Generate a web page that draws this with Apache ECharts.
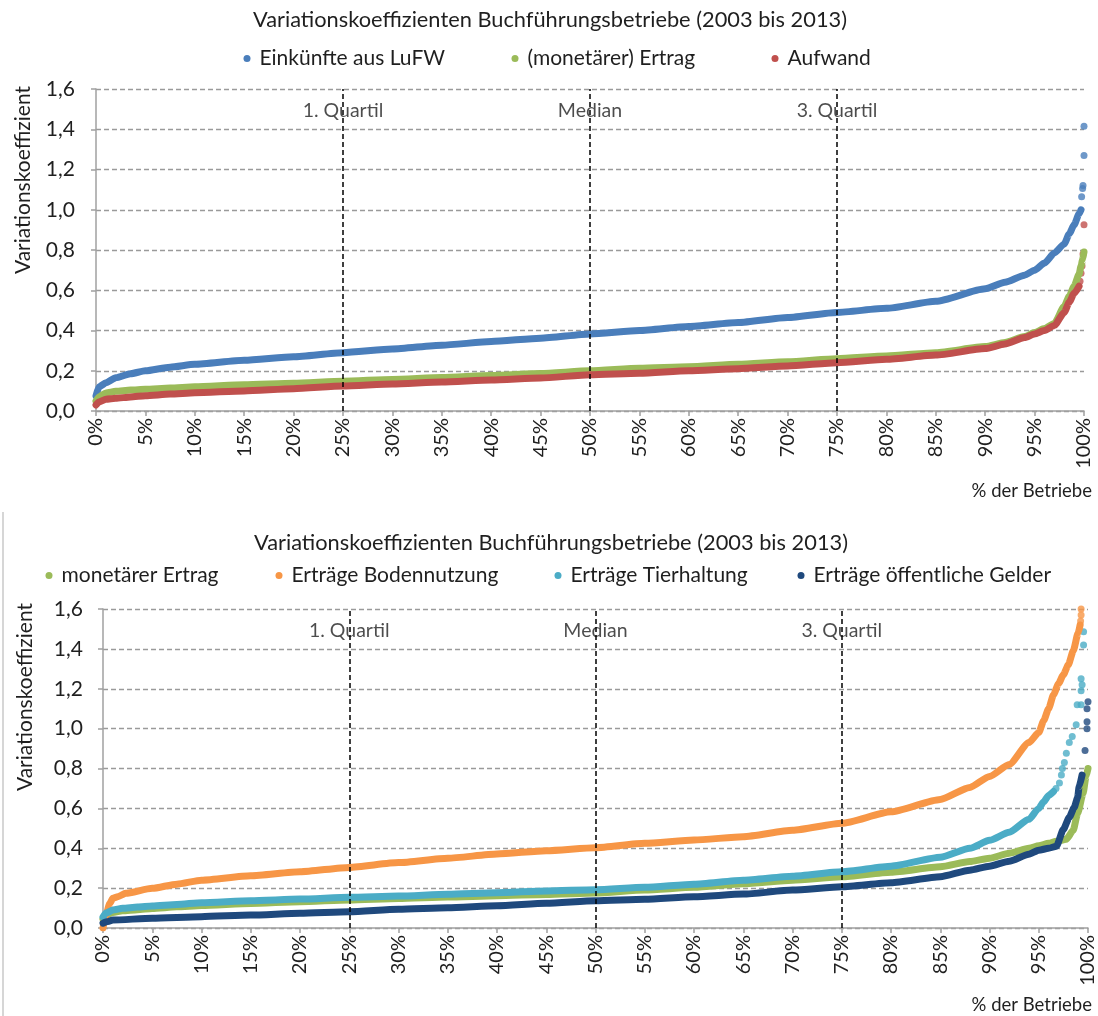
<!DOCTYPE html>
<html>
<head>
<meta charset="utf-8">
<script src="https://cdn.jsdelivr.net/npm/echarts@6/dist/echarts.min.js"></script>
<style>html,body{margin:0;padding:0;background:#fff;}#c{width:1098px;height:1016px;}</style>
</head>
<body>
<div id="c"></div>
<script>
// ---------- DATA ----------
const titleText = 'Variationskoeffizienten Buchführungsbetriebe (2003 bis 2013)';
const yTicks = [0, 0.2, 0.4, 0.6, 0.8, 1.0, 1.2, 1.4, 1.6];
const quartilePct = [25, 50, 75];
const quartileLabels = ['1. Quartil', 'Median', '3. Quartil'];
const quartileLabelY = 1.49;

// Chart 1
const lufwPct = [0, 0.3, 1, 2, 3.5, 5, 7.5, 10, 15, 20, 25, 30, 35, 40, 45, 50, 55, 60, 65, 70, 75, 80, 85, 90, 92, 94, 95, 96, 97, 98, 98.5, 99, 99.5, 99.7];
const lufwVal = [0.075, 0.12, 0.14, 0.165, 0.185, 0.2, 0.218, 0.232, 0.252, 0.27, 0.29, 0.308, 0.327, 0.345, 0.362, 0.383, 0.40, 0.42, 0.44, 0.465, 0.49, 0.51, 0.545, 0.607, 0.64, 0.675, 0.70, 0.735, 0.785, 0.83, 0.88, 0.925, 0.98, 1.0];
const lufwTailPct = [99.76, 99.86, 99.9, 100, 100];
const lufwTailVal = [1.065, 1.105, 1.12, 1.27, 1.415];

const ertrag1Pct = [0, 0.3, 1, 2, 3.5, 5, 7.5, 10, 15, 20, 25, 30, 35, 40, 45, 50, 55, 60, 65, 70, 75, 80, 85, 90, 92, 94, 95, 96, 97, 98, 98.5, 99, 99.5, 99.7, 99.85, 100];
const ertrag1Val = [0.05, 0.07, 0.09, 0.098, 0.104, 0.108, 0.114, 0.12, 0.13, 0.138, 0.148, 0.157, 0.166, 0.176, 0.186, 0.2, 0.212, 0.22, 0.232, 0.245, 0.26, 0.273, 0.29, 0.32, 0.34, 0.37, 0.39, 0.41, 0.435, 0.52, 0.57, 0.62, 0.68, 0.72, 0.75, 0.79];

const aufwandPct = [0, 0.3, 1, 2, 3.5, 5, 7.5, 10, 15, 20, 25, 30, 35, 40, 45, 50, 55, 60, 65, 70, 75, 80, 85, 90, 92, 94, 95, 96, 97, 98, 98.5, 99, 99.5];
const aufwandVal = [0.03, 0.045, 0.058, 0.063, 0.07, 0.076, 0.084, 0.091, 0.1, 0.111, 0.124, 0.134, 0.144, 0.154, 0.164, 0.18, 0.187, 0.2, 0.21, 0.224, 0.24, 0.257, 0.278, 0.31, 0.333, 0.365, 0.383, 0.40, 0.425, 0.49, 0.54, 0.585, 0.62];
const aufwandTailPct = [99.6, 99.7, 99.8, 99.9, 100];
const aufwandTailVal = [0.645, 0.685, 0.72, 0.78, 0.925];

// Chart 2
const ertrag2Pct = [0, 0.3, 1, 2, 3.5, 5, 7.5, 10, 15, 20, 25, 30, 35, 40, 45, 50, 55, 60, 65, 70, 75, 80, 85, 88, 90, 92, 94, 95, 96, 96.8, 97.8, 98.5, 98.95, 99.5, 99.8, 100];
const ertrag2Val = [0.045, 0.065, 0.078, 0.086, 0.092, 0.098, 0.106, 0.113, 0.123, 0.132, 0.141, 0.148, 0.155, 0.162, 0.168, 0.175, 0.19, 0.204, 0.222, 0.24, 0.257, 0.28, 0.307, 0.333, 0.35, 0.375, 0.40, 0.412, 0.425, 0.435, 0.445, 0.49, 0.575, 0.675, 0.76, 0.80];

const bodenPct = [0, 0.25, 0.7, 1, 1.5, 2.3, 5, 7.5, 10, 15, 20, 25, 30, 35, 40, 45, 50, 55, 60, 65, 70, 75, 80, 85, 88, 90, 92, 94, 95, 95.5, 96, 96.5, 97, 97.5, 98, 98.5, 99, 99.2];
const bodenVal = [0, 0.057, 0.124, 0.149, 0.157, 0.174, 0.199, 0.22, 0.24, 0.262, 0.282, 0.304, 0.328, 0.35, 0.371, 0.388, 0.403, 0.425, 0.441, 0.458, 0.49, 0.525, 0.583, 0.645, 0.705, 0.76, 0.82, 0.93, 0.98, 1.04, 1.1, 1.17, 1.225, 1.27, 1.32, 1.39, 1.48, 1.52];
const bodenTailPct = [99.25, 99.3, 99.3];
const bodenTailVal = [1.54, 1.57, 1.6];

const tierPct = [0, 0.3, 1, 2, 3.5, 5, 7.5, 10, 15, 20, 25, 30, 35, 40, 45, 50, 55, 60, 65, 70, 75, 80, 85, 88, 90, 92, 94, 95, 95.5, 96, 96.5];
const tierVal = [0.055, 0.075, 0.09, 0.099, 0.105, 0.11, 0.118, 0.127, 0.137, 0.145, 0.154, 0.16, 0.169, 0.177, 0.186, 0.192, 0.204, 0.22, 0.24, 0.26, 0.282, 0.31, 0.355, 0.40, 0.44, 0.48, 0.545, 0.60, 0.633, 0.665, 0.685];
const tierTailPct = [96.75, 97.1, 97.3, 97.4, 97.6, 97.8, 98.1, 98.4, 98.8, 98.9, 99.3, 99.3, 99.4, 99.3, 99.55, 99.55];
const tierTailVal = [0.7, 0.727, 0.767, 0.80, 0.83, 0.876, 0.93, 0.96, 1.02, 1.12, 1.12, 1.19, 1.22, 1.25, 1.42, 1.486];

const geldPct = [0, 0.5, 1, 5, 10, 15, 20, 25, 30, 35, 40, 45, 50, 55, 60, 65, 70, 75, 80, 85, 88, 90, 92, 94, 95, 96, 96.8, 97.5, 98.1, 98.6, 98.95, 99.1, 99.4];
const geldVal = [0.024, 0.032, 0.04, 0.049, 0.057, 0.065, 0.074, 0.082, 0.094, 0.102, 0.112, 0.124, 0.137, 0.144, 0.157, 0.17, 0.19, 0.207, 0.227, 0.257, 0.29, 0.31, 0.335, 0.37, 0.39, 0.40, 0.41, 0.495, 0.555, 0.605, 0.655, 0.71, 0.767];
const geldTailPct = [99.7, 99.9, 99.9, 99.9, 100];
const geldTailVal = [0.89, 1.0, 1.035, 1.10, 1.135];

// ---------- STYLE ----------
const FONT = 'Lato';
const TXT = '#1f1f1f';
const AX = '#a0a0a0';
const C = {
  blue: '#4a7ebb', green: '#9bbb59', red: '#c0504d',
  orange: '#f79646', cyan: '#4bacc6', navy: '#1f497d'
};

const chart = echarts.init(document.getElementById('c'), null, {renderer: 'canvas'});

function pairs(xs, ys) { return xs.map((x, i) => [x, ys[i]]); }
function body(name, color, xs, ys, gi) {
  return {
    type: 'line', name, xAxisIndex: gi, yAxisIndex: gi,
    data: pairs(xs, ys), showSymbol: false, symbol: 'circle',
    smooth: 0.2, smoothMonotone: 'x', silent: true,
    lineStyle: {width: 7, color, cap: 'round', join: 'round'},
    itemStyle: {color}
  };
}
function tail(name, color, xs, ys, gi) {
  return {
    type: 'scatter', name, xAxisIndex: gi, yAxisIndex: gi,
    data: pairs(xs, ys), symbol: 'circle', symbolSize: 7, silent: true,
    itemStyle: {color}
  };
}
function quart(gi) {
  return {
    type: 'scatter', name: '_q' + gi, xAxisIndex: gi, yAxisIndex: gi,
    data: quartilePct.map((x, i) => [x, quartileLabelY, quartileLabels[i]]),
    symbolSize: 0, silent: true,
    label: {show: true, position: 'inside', formatter: p => p.data[2],
      fontFamily: FONT, fontSize: 19.5, color: TXT},
    markLine: {
      silent: true, symbol: ['none', 'none'], label: {show: false},
      lineStyle: {color: '#000', type: [5, 3], width: 1.5},
      data: quartilePct.map(x => ({xAxis: x}))
    }
  };
}
function xAx(gi) {
  return {
    type: 'value', gridIndex: gi, min: 0, max: 100, interval: 5,
    axisLine: {show: true, lineStyle: {color: AX, width: 1.5}},
    axisTick: {show: true, length: 5, lineStyle: {color: AX, width: 1.5}},
    axisLabel: {rotate: 90, formatter: '{value}%', margin: 7, fontFamily: FONT, fontSize: 20, color: TXT, showMaxLabel: true, showMinLabel: true},
    splitLine: {show: false}
  };
}
function yAx(gi, margin) {
  return {
    type: 'value', gridIndex: gi, min: 0, max: 1.6, interval: 0.2,
    axisLine: {show: true, lineStyle: {color: AX, width: 1.5}},
    axisTick: {show: true, length: 5, lineStyle: {color: AX, width: 1.5}},
    axisLabel: {formatter: v => v.toFixed(1).replace('.', ','), margin, fontFamily: FONT, fontSize: 21, color: TXT},
    splitLine: {show: true, lineStyle: {color: '#9a9a9a', type: [5, 3], width: 1.3}}
  };
}
function leg(name, dotX, cy) {
  return {
    data: [name], left: dotX - 3.5, top: cy - 13, padding: 0,
    icon: 'circle', itemWidth: 7, itemHeight: 7, selectedMode: false,
    textStyle: {fontFamily: FONT, fontSize: 21, color: TXT, padding: [0, 0, 0, 4]}
  };
}
function txt(text, x, y, size, align, rot) {
  const el = {
    type: 'text', x, y, silent: true,
    style: {text, font: size + 'px ' + FONT, fill: TXT, align: align || 'center', verticalAlign: 'middle'}
  };
  if (rot) el.rotation = rot;
  return el;
}

const option = {
  animation: false,
  backgroundColor: '#fff',
  textStyle: {fontFamily: FONT},
  grid: [
    {left: 96, right: 14, top: 89, height: 322},
    {left: 103, right: 9, top: 609, height: 319}
  ],
  xAxis: [xAx(0), xAx(1)],
  yAxis: [yAx(0, 21), yAx(1, 20)],
  legend: [
    leg('Einkünfte aus LuFW', 247, 61),
    leg('(monetärer) Ertrag', 515, 61),
    leg('Aufwand', 775, 61),
    leg('monetärer Ertrag', 49, 578),
    leg('Erträge Bodennutzung', 279, 578),
    leg('Erträge Tierhaltung', 558, 578),
    leg('Erträge öffentliche Gelder', 801, 578)
  ],
  series: [
    quart(0),
    body('Einkünfte aus LuFW', C.blue, lufwPct, lufwVal, 0),
    tail('Einkünfte aus LuFW', C.blue, lufwTailPct, lufwTailVal, 0),
    body('(monetärer) Ertrag', C.green, ertrag1Pct, ertrag1Val, 0),
    body('Aufwand', C.red, aufwandPct, aufwandVal, 0),
    tail('Aufwand', C.red, aufwandTailPct, aufwandTailVal, 0),
    quart(1),
    body('monetärer Ertrag', C.green, ertrag2Pct, ertrag2Val, 1),
    body('Erträge Bodennutzung', C.orange, bodenPct, bodenVal, 1),
    tail('Erträge Bodennutzung', C.orange, bodenTailPct, bodenTailVal, 1),
    body('Erträge Tierhaltung', C.cyan, tierPct, tierVal, 1),
    tail('Erträge Tierhaltung', C.cyan, tierTailPct, tierTailVal, 1),
    body('Erträge öffentliche Gelder', C.navy, geldPct, geldVal, 1),
    tail('Erträge öffentliche Gelder', C.navy, geldTailPct, geldTailVal, 1)
  ],
  graphic: [
    txt(titleText, 550, 20, 21.8),
    txt(titleText, 551, 543, 21.8),
    txt('Variationskoeffizient', 23, 180, 21, 'center', Math.PI / 2),
    txt('Variationskoeffizient', 25, 697, 21, 'center', Math.PI / 2),
    txt('% der Betriebe', 1092, 491, 18.5, 'right'),
    txt('% der Betriebe', 1092, 1005, 18.5, 'right'),
    {type: 'line', silent: true, shape: {x1: 3, y1: 512, x2: 3, y2: 1016}, style: {stroke: '#c8c8c8', lineWidth: 1.5}}
  ]
};
chart.setOption(option);
</script>
</body>
</html>
